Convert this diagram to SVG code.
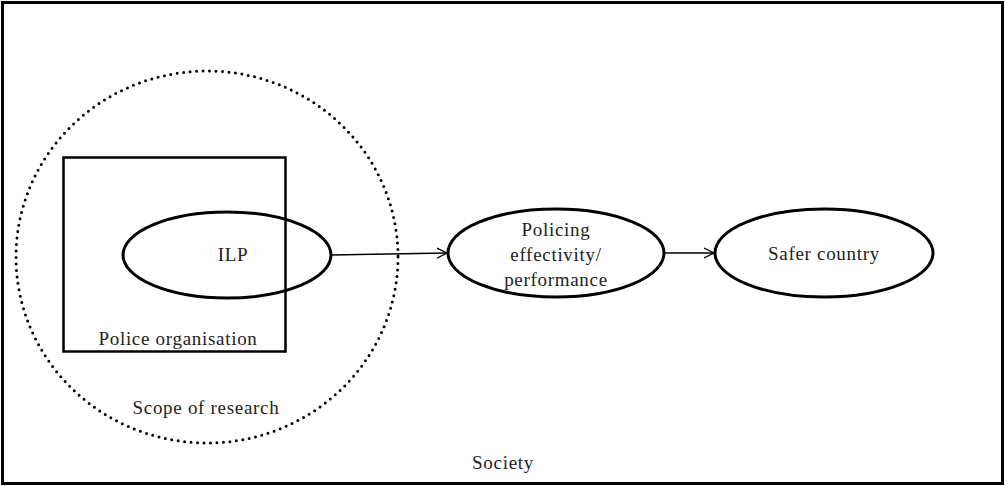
<svg xmlns="http://www.w3.org/2000/svg" width="1005" height="486" viewBox="0 0 1005 486">
<defs>
<style>
text{font-family:"Liberation Serif","Times New Roman",serif;font-size:19px;letter-spacing:0.7px;fill:#222;text-anchor:middle}
.node{fill:none;stroke:#000;stroke-width:3}
.conn{fill:none;stroke:#000;stroke-width:1.3}
</style>
<marker id="arr" markerWidth="12" markerHeight="12" refX="10" refY="6" orient="auto" markerUnits="userSpaceOnUse">
<path d="M0,1 L10,6 L0,11" fill="none" stroke="#000" stroke-width="1.3"/>
</marker>
</defs>
<rect width="1005" height="486" fill="#fff"/>
<g id="society">
<rect x="2.5" y="2.5" width="1000" height="481" fill="none" stroke="#000" stroke-width="3"/>
<text x="503" y="469">Society</text>
</g>
<g id="scope">
<ellipse cx="207" cy="257" rx="191" ry="186" fill="none" stroke="#000" stroke-width="3" stroke-dasharray="0 6.5" stroke-linecap="round"/>
<text x="206" y="414">Scope of research</text>
</g>
<g id="police-org">
<rect x="63.5" y="157.5" width="222" height="194" fill="none" stroke="#000" stroke-width="2.5"/>
<text x="178" y="345">Police organisation</text>
</g>
<g id="ilp">
<ellipse class="node" cx="227" cy="255" rx="104" ry="43"/>
<text x="233" y="261">ILP</text>
</g>
<g id="policing">
<ellipse class="node" cx="556" cy="253" rx="108" ry="44"/>
<text x="556" y="236">Policing</text>
<text x="556" y="261">effectivity/</text>
<text x="556" y="286">performance</text>
</g>
<g id="safer">
<ellipse class="node" cx="824" cy="253" rx="109" ry="44"/>
<text x="824" y="260">Safer country</text>
</g>
<g id="connectors">
<line class="conn" x1="331" y1="255" x2="447" y2="253" marker-end="url(#arr)"/>
<line class="conn" x1="664" y1="253" x2="714" y2="253" marker-end="url(#arr)"/>
</g>
</svg>
